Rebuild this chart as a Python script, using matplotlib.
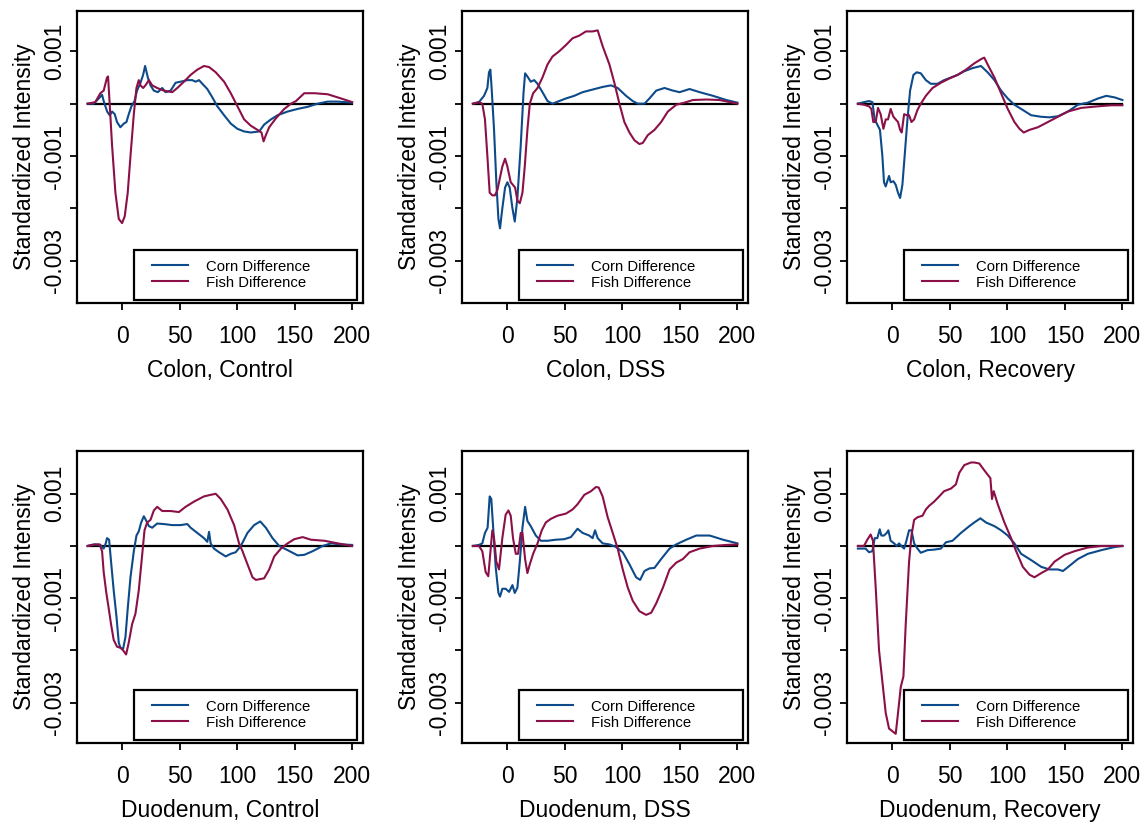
import matplotlib
matplotlib.use("Agg")
import matplotlib.pyplot as plt
from matplotlib.patches import Rectangle
import numpy as np

plt.rcParams['font.family'] = ['Liberation Sans', 'DejaVu Sans']

SCALE = 1e-3  # values below are in units of 0.001

# ---------------- Colon, Control ----------------
cc_corn_x = [-30, -24.7, -20.3, -17.4, -16, -13, -10.8, -8.7, -6.4, -4.4, -1.5, 1.5, 3.8, 5.8, 8.1, 10.8, 13, 16, 18.3, 20,
             22.4, 24.7, 27.6, 31.1, 34.9, 37.8, 42.2, 46.5, 50.9, 56.7, 61, 64, 66.9, 69.8, 74.1, 78.5, 82.8, 88.7, 94.5,
             100.3, 106.1, 111.9, 119.2, 123.5, 129.4, 135.2, 143.9, 152.6, 161.3, 170, 178.8, 187.5, 200]
cc_corn_y = [0, 0, 0.1, 0.17, 0.05, -0.15, -0.22, -0.15, -0.2, -0.35, -0.45, -0.38, -0.35, -0.2, -0.05, 0.05, 0.25, 0.4,
             0.55, 0.72, 0.5, 0.35, 0.25, 0.22, 0.3, 0.22, 0.25, 0.4, 0.42, 0.45, 0.45, 0.42, 0.45, 0.38, 0.28, 0.12, -0.05,
             -0.22, -0.38, -0.48, -0.53, -0.55, -0.53, -0.4, -0.3, -0.22, -0.15, -0.1, -0.06, 0.0, 0.04, 0.04, 0.02]
cc_fish_x = [-30, -23.3, -18.9, -16, -13.1, -12.2, -10.8, -8.7, -5.8, -2.9, 0, 2.3, 4.9, 7.3, 10.2, 12.5, 14.5, 16, 18.3,
             20.3, 23.3, 26.2, 30.5, 36.3, 43.6, 48, 53.8, 59.6, 65.4, 71.2, 75.6, 81.4, 88.7, 94.5, 100.3, 106.1, 111.9,
             117.7, 121.2, 123, 125, 127.9, 133.7, 141, 146.8, 151.2, 158.4, 167.2, 178.8, 190.4, 200]
cc_fish_y = [0, 0.03, 0.2, 0.25, 0.5, 0.52, 0.0, -0.8, -1.7, -2.2, -2.28, -2.15, -1.7, -1.0, -0.2, 0.3, 0.45, 0.35, 0.3,
             0.35, 0.45, 0.35, 0.3, 0.25, 0.22, 0.3, 0.42, 0.55, 0.65, 0.72, 0.7, 0.6, 0.42, 0.2, -0.05, -0.3, -0.42, -0.5,
             -0.55, -0.72, -0.6, -0.45, -0.28, -0.1, 0.0, 0.05, 0.2, 0.2, 0.18, 0.1, 0.03]

# ---------------- Colon, DSS ----------------
cd_corn_x = [-30, -24.7, -20.3, -17.4, -16, -14.8, -13.7, -11.6, -9.6, -7.8, -6.4, -4.4, -2, 0, 2, 4.4, 6.4, 8.7, 11.6, 14,
             15.4, 17.4, 20.3, 23.3, 26.2, 30.5, 34.9, 39.2, 45, 50.9, 58.1, 65.4, 74.1, 82.8, 90.1, 95.9, 103.2, 109,
             113.4, 119.2, 123.5, 129.4, 136.6, 143.9, 149.7, 158.4, 167.2, 178.8, 190.4, 200]
cd_corn_y = [0, 0.03, 0.15, 0.3, 0.6, 0.65, 0.3, -0.5, -1.5, -2.2, -2.38, -2.0, -1.6, -1.5, -1.6, -2.0, -2.25, -1.8, -0.8,
             0.2, 0.58, 0.52, 0.42, 0.45, 0.38, 0.22, 0.05, 0.0, 0.05, 0.1, 0.15, 0.22, 0.27, 0.32, 0.35, 0.3, 0.15, 0.05,
             0.0, 0.0, 0.1, 0.25, 0.3, 0.25, 0.22, 0.28, 0.22, 0.15, 0.07, 0.02]
cd_fish_x = [-30, -24.7, -21.8, -19.5, -17.4, -15.4, -13.1, -10.8, -8.7, -4.4, -2, 0, 2.9, 6.7, 8.7, 10.8, 13.1, 15.1,
             17.4, 19.5, 22.4, 26.2, 30.5, 34.9, 39.2, 45, 50.9, 56.7, 62.5, 68.3, 74.1, 78.5, 82.8, 88.7, 93, 97.4, 101.7,
             106.1, 110.5, 114.8, 117.7, 122.1, 127.9, 133.7, 139.5, 146.8, 154, 161.3, 173, 184.6, 200]
cd_fish_y = [0, 0.03, 0.0, -0.3, -1.0, -1.7, -1.75, -1.75, -1.65, -1.2, -1.05, -1.2, -1.5, -1.6, -1.85, -1.9, -1.7, -1.2,
             -0.5, 0.0, 0.2, 0.3, 0.5, 0.75, 0.9, 1.0, 1.12, 1.25, 1.3, 1.38, 1.38, 1.4, 1.1, 0.75, 0.4, 0.0, -0.35, -0.55,
             -0.7, -0.77, -0.75, -0.6, -0.5, -0.35, -0.15, -0.02, 0.02, 0.07, 0.08, 0.07, 0.0]

# ---------------- Colon, Recovery ----------------
cr_corn_x = [-30, -24.7, -20.3, -17.4, -15.4, -13.1, -10.8, -8.7, -7.3, -5.8, -4.4, -2.9, -1.5, 0.9, 2.9, 4.9, 6.7, 8.7,
             11, 13.1, 15.4, 18.3, 21.2, 24.7, 29.1, 33.4, 39.2, 45, 50.9, 56.7, 62.5, 69.8, 77, 82.8, 88.7, 94.5, 100.3,
             106.1, 113.4, 120.6, 129.4, 136.6, 143.9, 152.6, 161.3, 170, 178.8, 186, 193.3, 200]
cr_corn_y = [0, 0.03, 0.05, 0.03, -0.3, -0.4, -0.5, -1.0, -1.5, -1.58, -1.48, -1.38, -1.5, -1.48, -1.55, -1.7, -1.8, -1.55,
             -0.9, -0.3, 0.25, 0.55, 0.6, 0.58, 0.45, 0.38, 0.38, 0.45, 0.5, 0.55, 0.62, 0.68, 0.72, 0.6, 0.45, 0.25, 0.1,
             -0.02, -0.12, -0.22, -0.25, -0.26, -0.24, -0.15, -0.02, 0.02, 0.1, 0.15, 0.12, 0.07]
cr_fish_x = [-30, -24.7, -20.3, -18.3, -16.6, -14.5, -12.5, -10.2, -7.8, -5.8, -3.8, -1.5, 0.9, 2.9, 4.9, 6.7, 8.1, 10.2,
             12.5, 14.5, 16.6, 18.9, 21.8, 24.7, 29.1, 34.9, 42.2, 49.4, 56.7, 64, 71.2, 77, 79.9, 82.8, 88.7, 94.5, 100.3,
             106.1, 110.5, 114.2, 119.2, 126.5, 135.2, 143.9, 152.6, 164.2, 178.8, 190.4, 200]
cr_fish_y = [0, -0.02, -0.05, -0.1, -0.35, -0.35, -0.08, -0.2, -0.48, -0.3, -0.3, -0.1, -0.25, -0.3, -0.35, -0.5, -0.55,
             -0.2, -0.22, -0.22, -0.35, -0.3, -0.12, 0.0, 0.15, 0.3, 0.4, 0.48, 0.55, 0.65, 0.77, 0.85, 0.88, 0.75, 0.5, 0.2,
             -0.1, -0.35, -0.48, -0.55, -0.5, -0.45, -0.35, -0.25, -0.15, -0.08, -0.05, -0.03, -0.03]

# ---------------- Duodenum, Control ----------------
dc_corn_x = [-30, -24.7, -18.9, -16, -14.2, -13.1, -11.3, -9.6, -7.3, -4.9, -2.9, -1.5, 0.9, 2.9, 4.9, 7.3, 10.2, 12.5,
             14.5, 16.6, 18.9, 20.6, 23.3, 26.2, 30.5, 36.3, 43.6, 50.9, 56.7, 59.6, 65.4, 71.2, 74.1, 75.6, 77, 79.9, 84.3,
             90.1, 94.5, 98.8, 103.2, 109, 114.8, 120.1, 125, 130.8, 136.6, 143.9, 152.6, 158.4, 165.7, 174.4, 181.7,
             190.4, 200]
dc_corn_y = [0, 0.03, 0.02, -0.05, 0.05, 0.15, 0.12, -0.3, -0.85, -1.35, -1.85, -1.95, -1.97, -1.75, -1.2, -0.6, -0.1,
             0.2, 0.28, 0.45, 0.57, 0.5, 0.38, 0.35, 0.43, 0.42, 0.4, 0.4, 0.42, 0.35, 0.25, 0.15, 0.08, 0.27, 0.05, -0.05,
             -0.12, -0.2, -0.15, -0.12, 0.0, 0.25, 0.4, 0.47, 0.35, 0.15, 0.0, -0.08, -0.18, -0.17, -0.1, 0.0, 0.05, 0.03,
             0.02]
dc_fish_x = [-30, -23.3, -19.5, -17.4, -16, -13.7, -11.6, -9.6, -7.3, -4.4, -1.5, 0.9, 3.5, 5.8, 8.7, 11.6, 14.5, 16.9,
             19.5, 21.8, 24.7, 27.6, 30.5, 34.9, 42.2, 49.4, 55.2, 62.5, 71.2, 77, 81.4, 85.8, 91.6, 97.4, 101.7, 104.7,
             109, 113.4, 116.3, 123.5, 127.9, 132.3, 138.1, 143.9, 149.7, 157, 164.2, 175.9, 187.5, 200]
dc_fish_y = [0, 0.03, 0.03, -0.1, -0.5, -0.9, -1.2, -1.5, -1.8, -1.93, -1.95, -2.0, -2.08, -1.85, -1.5, -1.3, -0.85, -0.3,
             0.3, 0.45, 0.5, 0.68, 0.75, 0.67, 0.67, 0.65, 0.75, 0.85, 0.95, 0.98, 1.0, 0.9, 0.7, 0.4, 0.05, -0.1, -0.35,
             -0.6, -0.65, -0.62, -0.45, -0.2, -0.05, 0.05, 0.13, 0.17, 0.12, 0.1, 0.05, 0.0]

# ---------------- Duodenum, DSS ----------------
dd_corn_x = [-30, -24.7, -21.8, -19.5, -17.2, -15.4, -14, -12.5, -10.2, -7.8, -6.4, -4.4, -1.5, 1.5, 4.4, 6.4, 8.7, 10.8,
             13.1, 15.4, 17.4, 20.3, 24.7, 29.1, 34.9, 42.2, 49.4, 55.2, 61, 65.4, 71.2, 74.1, 76.2, 78.5, 82.8, 88.7, 94.5,
             100.3, 106.1, 111.9, 115.4, 119.2, 123.5, 127.9, 133.7, 141, 146.8, 155.5, 164.2, 175.9, 187.5, 200]
dd_corn_y = [0, 0.02, 0.05, 0.25, 0.35, 0.95, 0.9, 0.4, -0.4, -0.9, -0.97, -0.82, -0.82, -0.88, -0.75, -0.9, -0.8, -0.3,
             0.35, 0.75, 0.48, 0.38, 0.2, 0.1, 0.1, 0.12, 0.13, 0.17, 0.33, 0.25, 0.2, 0.15, 0.3, 0.15, 0.05, 0.03, -0.02,
             -0.12, -0.35, -0.6, -0.65, -0.48, -0.43, -0.42, -0.25, -0.05, 0.03, 0.12, 0.2, 0.2, 0.12, 0.05]
dd_fish_x = [-30, -24.7, -21.8, -18.9, -16.6, -15.1, -13.1, -11.6, -9.6, -7.3, -4.4, -1.5, 0.9, 2.9, 4.9, 7.3, 9.3, 11.6,
             13.1, 15.4, 17.4, 19.5, 22.4, 26.2, 29.9, 33.4, 37.8, 43.6, 50.9, 56.7, 61, 66.9, 72.7, 77, 79.4, 82.8, 87.2,
             91.6, 95.9, 100.3, 104.7, 109, 114.8, 120.6, 125, 129.4, 135.2, 141, 146.8, 152.6, 158.4, 167.2, 178.8, 190.4,
             200]
dd_fish_y = [0, 0.0, -0.1, -0.5, -0.58, -0.2, 0.3, 0.15, -0.3, -0.45, 0.15, 0.6, 0.68, 0.58, 0.15, -0.15, -0.15, 0.25,
             0.25, -0.25, -0.52, -0.35, -0.15, 0.05, 0.3, 0.45, 0.52, 0.58, 0.62, 0.7, 0.8, 0.98, 1.05, 1.13, 1.12, 0.95,
             0.55, 0.25, -0.05, -0.45, -0.8, -1.05, -1.25, -1.32, -1.28, -1.1, -0.8, -0.45, -0.32, -0.25, -0.12, -0.05, 0.0,
             0.02, 0.03]

# ---------------- Duodenum, Recovery ----------------
dr_corn_x = [-30, -23.3, -20.3, -17.4, -15.4, -13.1, -11, -9.6, -7.3, -4.9, -3.5, -1.5, 1.5, 3.8, 5.8, 7.8, 10.2, 12.2,
             14.5, 16.6, 18.9, 21.8, 24.7, 30.5, 36.3, 42.2, 46.5, 52.3, 59.6, 66.9, 71.2, 76.5, 81.4, 88.7, 94.5, 100.3,
             106.1, 111.9, 120.6, 129.4, 136.6, 143.9, 148.3, 154, 161.3, 170, 181.7, 193.3, 200]
dr_corn_y = [-0.05, -0.05, -0.12, -0.1, 0.15, 0.15, 0.32, 0.2, 0.2, 0.25, 0.3, 0.1, 0.05, 0.0, 0.05, 0.0, -0.05, 0.1, 0.3,
             0.3, 0.05, -0.05, -0.13, -0.08, -0.07, -0.05, 0.07, 0.1, 0.25, 0.38, 0.45, 0.53, 0.45, 0.38, 0.3, 0.2, 0.05,
             -0.15, -0.27, -0.4, -0.45, -0.45, -0.48, -0.38, -0.25, -0.15, -0.08, -0.02, 0.0]
dr_fish_x = [-30, -24.7, -21.8, -18.9, -16.9, -14.5, -11.6, -8.7, -5.8, -2.9, 0, 2.9, 4.9, 7.3, 9.6, 11.6, 14.5, 16.6,
             18.9, 21.8, 26.2, 29.1, 32, 36.3, 40.7, 45, 50.9, 55.2, 58.1, 62.5, 68.3, 71.2, 75.6, 79.9, 85.2, 86.6, 88.1,
             91.6, 97.4, 103.2, 107.6, 113.4, 119.2, 123.5, 129.4, 135.2, 141, 149.7, 158.4, 170, 181.7, 190.4, 200]
dr_fish_y = [0, 0.0, 0.12, 0.22, 0.1, -0.8, -2.0, -2.6, -3.2, -3.5, -3.55, -3.6, -3.2, -2.7, -2.5, -1.5, -0.3, 0.2, 0.5,
             0.55, 0.58, 0.7, 0.77, 0.85, 0.95, 1.05, 1.1, 1.18, 1.4, 1.55, 1.6, 1.6, 1.58, 1.45, 1.3, 0.9, 1.05, 0.8, 0.45,
             0.15, -0.1, -0.4, -0.55, -0.6, -0.52, -0.45, -0.3, -0.17, -0.1, -0.03, 0.0, 0.0, 0.0]

panel_titles = ["Colon, Control", "Colon, DSS", "Colon, Recovery",
                "Duodenum, Control", "Duodenum, DSS", "Duodenum, Recovery"]
panels = [
    (cc_corn_x, cc_corn_y, cc_fish_x, cc_fish_y),
    (cd_corn_x, cd_corn_y, cd_fish_x, cd_fish_y),
    (cr_corn_x, cr_corn_y, cr_fish_x, cr_fish_y),
    (dc_corn_x, dc_corn_y, dc_fish_x, dc_fish_y),
    (dd_corn_x, dd_corn_y, dd_fish_x, dd_fish_y),
    (dr_corn_x, dr_corn_y, dr_fish_x, dr_fish_y),
]
series_labels = ["Corn Difference", "Fish Difference"]
x_ticks = [0, 50, 100, 150, 200]
y_ticks = [-0.003, -0.002, -0.001, 0.0, 0.001]
y_tick_labels = ["-0.003", "", "-0.001", "", "0.001"]
x_range = (-30, 200)

CORN = "#0d4a8a"
FISH = "#8c1048"

W, H = 1148, 827
fig = plt.figure(figsize=(W / 100, H / 100), dpi=100)

col_left = [77, 462.3, 847.3]
row_top = [11, 451]
ax_w, ax_h = 285.7, 291.7
row_ylim = [(-0.0038, 0.00177), (-0.00377, 0.00182)]

for i, (title, (cx, cy, fx, fy)) in enumerate(zip(panel_titles, panels)):
    r, c = divmod(i, 3)
    ax = fig.add_axes([col_left[c] / W, 1 - (row_top[r] + ax_h) / H, ax_w / W, ax_h / H])
    ax.plot(list(x_range), [0, 0], color="black", lw=1.6, zorder=2)
    ax.plot(cx, np.array(cy) * SCALE, color=CORN, lw=1.5, zorder=3)
    ax.plot(fx, np.array(fy) * SCALE, color=FISH, lw=1.5, zorder=3)
    ax.set_xlim(-39.2, 209.2)
    ax.set_ylim(*row_ylim[r])
    ax.set_xticks(x_ticks)
    ax.set_xticklabels([str(t) for t in x_ticks])
    ax.set_yticks(y_ticks)
    ax.set_yticklabels(y_tick_labels, rotation=90, va="center")
    ax.tick_params(axis="both", direction="out", length=5, width=1.3, labelsize=16.5, colors="black")
    ax.tick_params(axis="x", pad=11)
    ax.tick_params(axis="y", pad=3)
    for sp in ax.spines.values():
        sp.set_linewidth(1.6)
    ax.set_xlabel(title, fontsize=16.5, labelpad=8)
    ax.set_ylabel("Standardized Intensity", fontsize=16.5, labelpad=5)

    # legend box (bottom right)
    ax.add_patch(Rectangle((0.198, 0.009), 0.783, 0.170, transform=ax.transAxes,
                           facecolor="white", edgecolor="black", lw=1.6, zorder=5))
    for k, (lab, col, yy) in enumerate(zip(series_labels, [CORN, FISH], [0.129, 0.074])):
        ax.plot([0.2625, 0.3885], [yy, yy], transform=ax.transAxes, color=col, lw=1.5, zorder=6)
        ax.text(0.4505, yy - 0.008, lab, transform=ax.transAxes, fontsize=10.7, va="center", ha="left", zorder=6)

fig.savefig("out.png", dpi=100)
